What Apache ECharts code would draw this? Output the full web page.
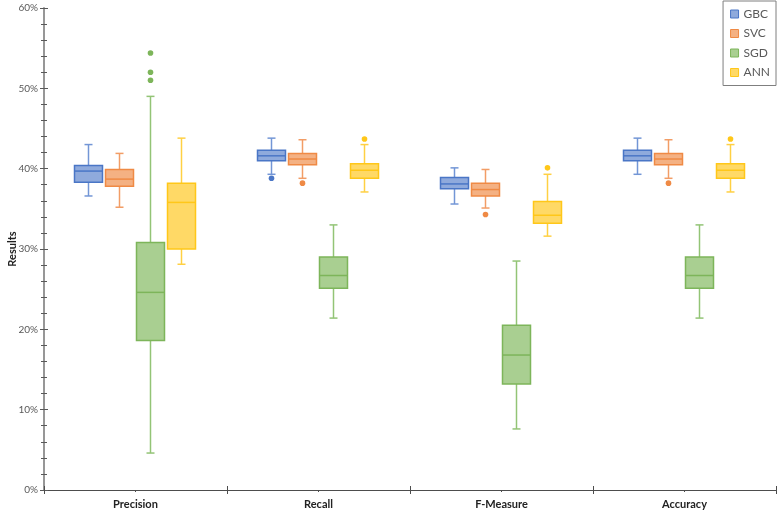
<!DOCTYPE html>
<html>
<head>
<meta charset="utf-8">
<script src="https://cdn.jsdelivr.net/npm/echarts@6/dist/echarts.min.js"></script>
<style>html,body{margin:0;padding:0;background:#fff}#chart{width:778px;height:513px}</style>
</head>
<body>
<div id="chart"></div>
<script>
// ---- data (values in %) ----
const categories = ['Precision', 'Recall', 'F-Measure', 'Accuracy'];
const seriesNames = ['GBC', 'SVC', 'SGD', 'ANN'];
const yTicks = [0, 10, 20, 30, 40, 50, 60];
// per category: [min, Q1, median, Q3, max]
const gbcStats = [[36.6, 38.3, 39.7, 40.4, 43.0], [39.3, 41.0, 41.6, 42.3, 43.8], [35.6, 37.5, 38.1, 38.9, 40.1], [39.3, 41.0, 41.6, 42.3, 43.8]];
const svcStats = [[35.2, 37.8, 38.7, 39.9, 41.9], [38.8, 40.5, 41.2, 41.9, 43.6], [35.1, 36.6, 37.4, 38.2, 39.9], [38.8, 40.5, 41.2, 41.9, 43.6]];
const sgdStats = [[4.6, 18.6, 24.6, 30.8, 49.0], [21.4, 25.1, 26.7, 29.0, 33.0], [7.6, 13.2, 16.8, 20.5, 28.5], [21.4, 25.1, 26.7, 29.0, 33.0]];
const annStats = [[28.1, 30.0, 35.8, 38.2, 43.8], [37.1, 38.8, 39.8, 40.6, 43.0], [31.6, 33.2, 34.2, 35.9, 39.3], [37.1, 38.8, 39.8, 40.6, 43.0]];
// outliers: [category index, value]
const gbcOutliers = [[1, 38.8]];
const svcOutliers = [[1, 38.2], [2, 34.3], [3, 38.2]];
const sgdOutliers = [[0, 54.4], [0, 52.0], [0, 51.0]];
const annOutliers = [[1, 43.7], [2, 40.1], [3, 43.7]];

// ---- styles ----
const fills = ['#8FAADC', '#F4B183', '#A9CF91', '#FFD966'];
const borders = ['#4A76C6', '#EF8A45', '#7DB55A', '#FFC719'];
const whiskers = ['#7396D6', '#F29D66', '#93C476', '#FFD043'];
const OFFSETS = [-47, -16, 15, 46];
const HALF = 14, CAP = 4;

const statsList = [gbcStats, svcStats, sgdStats, annStats];
const outlierList = [gbcOutliers, svcOutliers, sgdOutliers, annOutliers];

function boxRender(k) {
  return function (params, api) {
    const c = api.value(0);
    const ys = [1, 2, 3, 4, 5].map(d => api.coord([c, api.value(d)])[1]);
    const x = api.coord([c, 0])[0] + OFFSETS[k];
    const [yMin, yQ1, yMed, yQ3, yMax] = ys;
    const ws = { stroke: whiskers[k], lineWidth: 1.5 };
    return {
      type: 'group',
      children: [
        { type: 'line', shape: { x1: x, y1: yQ3, x2: x, y2: yMax }, style: ws },
        { type: 'line', shape: { x1: x, y1: yQ1, x2: x, y2: yMin }, style: ws },
        { type: 'line', shape: { x1: x - CAP, y1: yMax, x2: x + CAP, y2: yMax }, style: ws },
        { type: 'line', shape: { x1: x - CAP, y1: yMin, x2: x + CAP, y2: yMin }, style: ws },
        { type: 'rect', shape: { x: x - HALF, y: yQ3, width: 2 * HALF, height: yQ1 - yQ3 }, style: { fill: fills[k], stroke: borders[k], lineWidth: 1.5 } },
        { type: 'line', shape: { x1: x - HALF, y1: yMed, x2: x + HALF, y2: yMed }, style: { stroke: borders[k], lineWidth: 1.5 } }
      ]
    };
  };
}
function outlierRender(k) {
  return function (params, api) {
    const p = api.coord([api.value(0), api.value(1)]);
    return { type: 'circle', shape: { cx: p[0] + OFFSETS[k], cy: p[1], r: 2.8 }, style: { fill: borders[k] } };
  };
}

const series = [];
seriesNames.forEach((name, k) => {
  series.push({
    name: name, type: 'custom', xAxisIndex: 0, yAxisIndex: 0,
    itemStyle: { color: fills[k], borderColor: borders[k] },
    encode: { x: 0, y: [1, 2, 3, 4, 5] },
    data: statsList[k].map((s, i) => [i].concat(s)),
    renderItem: boxRender(k)
  });
  series.push({
    name: name, type: 'custom', xAxisIndex: 0, yAxisIndex: 0,
    itemStyle: { color: fills[k], borderColor: borders[k] },
    encode: { x: 0, y: 1 },
    data: outlierList[k],
    renderItem: outlierRender(k)
  });
});

const FONT = 'Lato';
const chart = echarts.init(document.getElementById('chart'), null, { renderer: 'canvas' });
chart.setOption({
  animation: false,
  textStyle: { fontFamily: FONT },
  grid: { left: 44, right: 2, top: 8, bottom: 23, containLabel: false, outerBoundsMode: 'none' },
  legend: {
    orient: 'vertical', right: 2, top: 1, icon: 'rect',
    itemWidth: 8, itemHeight: 8, itemGap: 7.5,
    padding: [7, 6, 7, 7],
    borderColor: '#7f7f7f', borderWidth: 1,
    textStyle: { fontSize: 12, color: '#595959', fontFamily: FONT },
    data: seriesNames.map((n, k) => ({ name: n, itemStyle: { color: fills[k], borderColor: borders[k], borderWidth: 1 } }))
  },
  xAxis: [
    {
      type: 'category', data: categories, boundaryGap: true,
      axisLine: { lineStyle: { color: '#4d4d4d', width: 1.2 } },
      axisTick: { show: true, length: 4, lineStyle: { color: '#4d4d4d' } },
      axisLabel: { fontWeight: 'bold', fontSize: 11, color: '#222', margin: 9, fontFamily: FONT },
      splitLine: { show: false }
    },
    {
      type: 'category', data: categories, boundaryGap: true, position: 'bottom',
      axisLine: { show: false },
      axisTick: { show: true, inside: true, length: 4, lineStyle: { color: '#4d4d4d' } },
      axisLabel: { show: false }, splitLine: { show: false }
    },
    {
      type: 'category', data: categories, boundaryGap: true, position: 'bottom',
      axisLine: { show: false },
      axisTick: { show: true, alignWithLabel: true, length: 2, lineStyle: { color: '#4d4d4d' } },
      axisLabel: { show: false }, splitLine: { show: false }
    }
  ],
  yAxis: [
    {
      type: 'value', min: yTicks[0], max: yTicks[yTicks.length - 1], interval: 10,
      name: 'Results', nameLocation: 'middle', nameGap: 26, nameMoveOverlap: false,
      nameTextStyle: { fontWeight: 'bold', fontSize: 11, color: '#222', fontFamily: FONT },
      axisLine: { show: true, lineStyle: { color: '#8c8c8c', width: 1.8 } },
      axisTick: { show: true, length: 4, lineStyle: { color: '#595959' } },
      minorTick: { show: true, splitNumber: 5, length: 3, lineStyle: { color: '#595959' } },
      axisLabel: { formatter: '{value}%', fontSize: 10, color: '#595959', margin: 6, fontFamily: FONT },
      splitLine: { show: false }, minorSplitLine: { show: false }
    },
    {
      type: 'value', min: yTicks[0], max: yTicks[yTicks.length - 1], interval: 10, position: 'left',
      axisLine: { show: false },
      axisTick: { show: true, inside: true, length: 4, lineStyle: { color: '#595959' } },
      minorTick: { show: true, splitNumber: 5, length: 3, lineStyle: { color: '#595959' } },
      axisLabel: { show: false }, splitLine: { show: false }
    }
  ],
  series: series
});
</script>
</body>
</html>
